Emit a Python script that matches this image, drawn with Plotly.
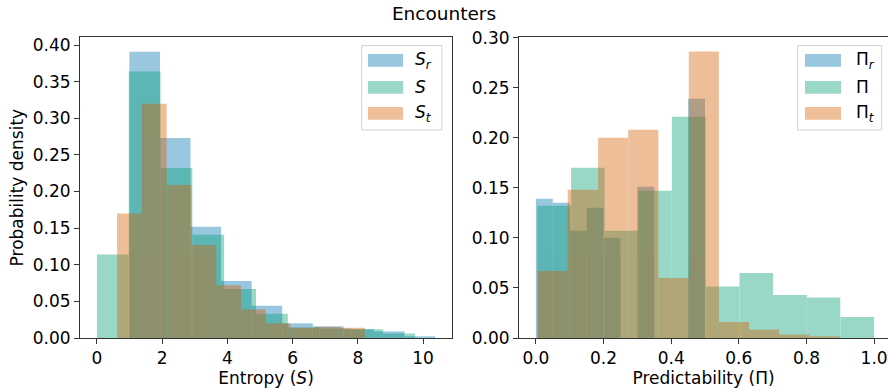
import plotly.graph_objects as go

# ---------------- data ----------------
# Left panel: entropy histograms (bin edges and per-bin probability)
s_r_edges = [0.995, 1.933, 2.870, 3.808, 4.745, 5.683, 6.620, 7.558, 8.495, 9.433, 10.370]
s_r_vals = [0.391, 0.273, 0.152, 0.078, 0.044, 0.020, 0.016, 0.012, 0.009, 0.0015]

s_edges = [0.000, 0.976, 1.951, 2.927, 3.902, 4.878, 5.853, 6.829, 7.804, 8.780, 9.755]
s_vals = [0.114, 0.364, 0.232, 0.141, 0.067, 0.033, 0.0145, 0.013, 0.012, 0.006]

s_t_edges = [0.618, 1.378, 2.138, 2.898, 3.658, 4.418, 5.178, 5.938, 6.698, 7.458, 8.218]
s_t_vals = [0.170, 0.320, 0.209, 0.127, 0.072, 0.039, 0.020, 0.014, 0.015, 0.014]

# Right panel: predictability histograms
p_r_edges = [0.00, 0.05, 0.10, 0.15, 0.20, 0.25, 0.30, 0.35, 0.40, 0.45, 0.50]
p_r_vals = [0.139, 0.135, 0.107, 0.130, 0.100, 0.0, 0.151, 0.0, 0.0, 0.239]

p_edges = [0.004, 0.104, 0.203, 0.303, 0.402, 0.502, 0.602, 0.701, 0.801, 0.900, 1.000]
p_vals = [0.132, 0.170, 0.107, 0.147, 0.221, 0.0515, 0.065, 0.043, 0.0405, 0.021]

p_t_edges = [0.005, 0.094, 0.184, 0.273, 0.362, 0.452, 0.541, 0.630, 0.719, 0.809, 0.898]
p_t_vals = [0.067, 0.148, 0.200, 0.208, 0.060, 0.286, 0.016, 0.0083, 0.0033, 0.001]

left_labels = ["<i>S</i><sub><i>r</i></sub>", "<i>S</i>", "<i>S</i><sub><i>t</i></sub>"]
right_labels = ["Π<sub><i>r</i></sub>", "Π", "Π<sub><i>t</i></sub>"]

left_xticks = [0, 2, 4, 6, 8, 10]
left_yticks = [0.00, 0.05, 0.10, 0.15, 0.20, 0.25, 0.30, 0.35, 0.40]
right_xticks = [0.0, 0.2, 0.4, 0.6, 0.8, 1.0]
right_yticks = [0.00, 0.05, 0.10, 0.15, 0.20, 0.25, 0.30]

# ---------------- style ----------------
COLORS = ["#0173b2", "#029e73", "#d55e00"]
ALPHA = 0.4
FONT = "DejaVu Sans"
FS = 17
W, H = 888, 391


def bars(edges, vals, color, name, xa, ya):
    lefts = edges[:-1]
    widths = [edges[i + 1] - edges[i] for i in range(len(vals))]
    return go.Bar(x=lefts, y=vals, width=widths, offset=0, name=name,
                  marker=dict(color=color, line=dict(width=0)),
                  opacity=ALPHA, xaxis=xa, yaxis=ya, showlegend=False)


fig = go.Figure()
for e, v, c, n in zip([s_r_edges, s_edges, s_t_edges], [s_r_vals, s_vals, s_t_vals], COLORS, left_labels):
    fig.add_trace(bars(e, v, c, n, "x", "y"))
for e, v, c, n in zip([p_r_edges, p_edges, p_t_edges], [p_r_vals, p_vals, p_t_vals], COLORS, right_labels):
    fig.add_trace(bars(e, v, c, n, "x2", "y2"))

ybot = (H - 338) / H
ytop = (H - 37.3) / H
axcommon = dict(showgrid=False, zeroline=False, showline=True, linecolor="#333",
                linewidth=1, ticks="outside", ticklen=5, tickwidth=1, tickcolor="#333",
                tickfont=dict(family=FONT, size=FS, color="black"), automargin=False)

fig.update_layout(
    width=W, height=H, margin=dict(l=0, r=0, t=0, b=0),
    paper_bgcolor="white", plot_bgcolor="white", barmode="overlay",
    font=dict(family=FONT, size=FS, color="black"),
    title=dict(text="Encounters", x=0.5, xanchor="center", y=1 - 14 / H, yanchor="middle",
               font=dict(family=FONT, size=18.5, color="black")),
    xaxis=dict(domain=[80 / W, 452 / W], range=[-0.5185, 10.8885], anchor="y",
               tickvals=left_xticks, ticktext=[str(t) for t in left_xticks], mirror=True,
               title=dict(text="Entropy (<i>S</i>)", standoff=4,
                          font=dict(family=FONT, size=FS, color="black")), **axcommon),
    yaxis=dict(domain=[ybot, ytop], range=[0, 0.4106], anchor="x",
               tickvals=left_yticks, ticktext=[f"{t:.2f}" for t in left_yticks], mirror=True,
               title=dict(text="Probability density", standoff=4,
                          font=dict(family=FONT, size=FS, color="black")), **axcommon),
    xaxis2=dict(domain=[519 / W, 1.0], range=[-0.05, 1.0411], anchor="y2",
                tickvals=right_xticks, ticktext=[f"{t:.1f}" for t in right_xticks], mirror=True,
                title=dict(text="Predictability (Π)", standoff=4,
                           font=dict(family=FONT, size=FS, color="black")), **axcommon),
    yaxis2=dict(domain=[ybot, ytop], range=[0, 0.3003], anchor="x2",
                tickvals=right_yticks, ticktext=[f"{t:.2f}" for t in right_yticks], mirror=False,
                **axcommon),
)

# ---------------- custom matplotlib-style legends ----------------
shapes = []
annotations = []


def legend(box_x0, box_x1, patch_x0, patch_x1, text_x, labels):
    shapes.append(dict(type="rect", xref="paper", yref="paper",
                       x0=box_x0 / W, x1=box_x1 / W, y0=(H - 130) / H, y1=(H - 45.7) / H,
                       line=dict(color="#d0d0d0", width=1), fillcolor="rgba(255,255,255,0.8)",
                       layer="above"))
    for row_y, col, lab in zip([60.3, 87.3, 113.3], COLORS, labels):
        shapes.append(dict(type="rect", xref="paper", yref="paper",
                           x0=patch_x0 / W, x1=patch_x1 / W,
                           y0=(H - row_y - 6.4) / H, y1=(H - row_y + 6.4) / H,
                           line=dict(width=0), fillcolor=col, opacity=ALPHA, layer="above"))
        annotations.append(dict(xref="paper", yref="paper", x=text_x / W, y=(H - row_y) / H,
                                text=lab, showarrow=False, xanchor="left", yanchor="middle",
                                font=dict(family=FONT, size=FS, color="black")))


legend(361.7, 442.0, 368.0, 403.0, 413.0, left_labels)
legend(797.7, 881.7, 805.0, 841.0, 854.0, right_labels)

fig.update_layout(shapes=shapes, annotations=annotations)

fig.write_html("out.html", config={"displayModeBar": False},
               post_script="document.body.style.margin='0';document.body.style.padding='0';document.body.style.overflow='hidden';")
